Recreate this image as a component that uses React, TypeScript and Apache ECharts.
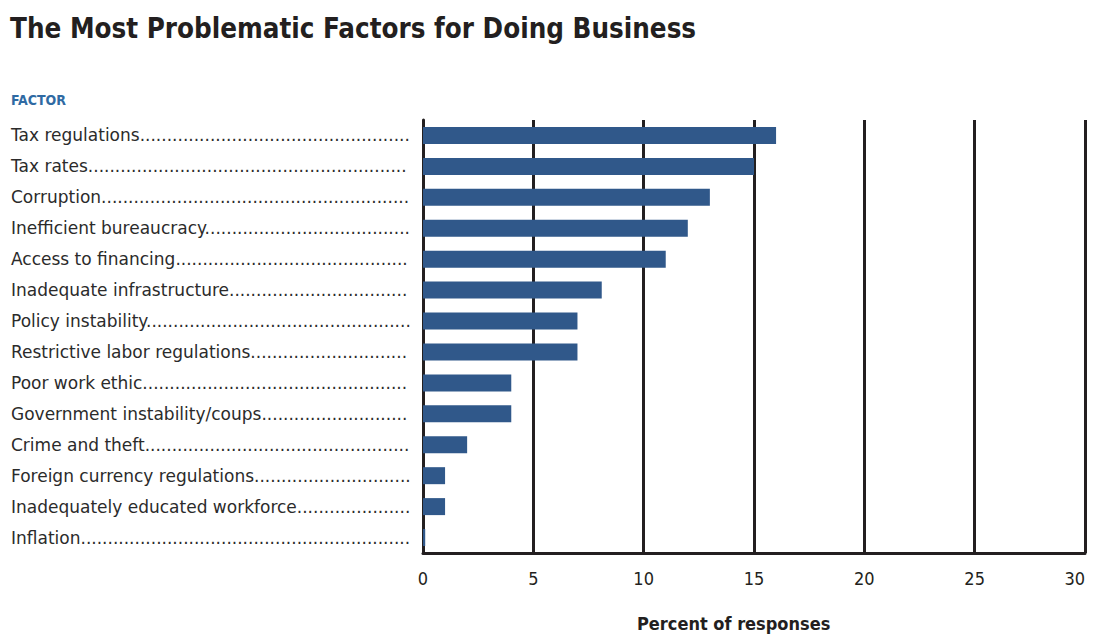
import React, { useEffect, useRef } from "react";
import * as echarts from "echarts";

const categories = [
  "Tax regulations",
  "Tax rates",
  "Corruption",
  "Inefficient bureaucracy",
  "Access to financing",
  "Inadequate infrastructure",
  "Policy instability",
  "Restrictive labor regulations",
  "Poor work ethic",
  "Government instability/coups",
  "Crime and theft",
  "Foreign currency regulations",
  "Inadequately educated workforce",
  "Inflation",
];
const values = [16, 15, 13, 12, 11, 8.1, 7, 7, 4, 4, 2, 1, 1, 0.1];
const xTicks = [0, 5, 10, 15, 20, 25, 30];

const COND = "'DejaVu Sans Condensed', sans-serif";
const WIDE = "'DejaVu Sans', 'Liberation Sans', sans-serif";

export default function App() {
  const ref = useRef<HTMLDivElement>(null);
  useEffect(() => {
    document.body.style.margin = "0";
    document.body.style.overflow = "hidden";
    if (!ref.current) return;
    const chart = echarts.init(ref.current, null, { renderer: "svg" });
    const dots = ".".repeat(200);
    chart.setOption({
      animation: false,
      backgroundColor: "#ffffff",
      title: [
        {
          text: "The Most Problematic Factors for Doing Business",
          left: 10,
          top: 14,
          padding: 0,
          textStyle: { fontFamily: COND, fontSize: 27.5, fontWeight: "bold", color: "#231f20" },
        },
        {
          text: "FACTOR",
          left: 11,
          top: 93,
          padding: 0,
          textStyle: { fontFamily: COND, fontSize: 14, fontWeight: "bold", color: "#2f6aa3" },
        },
      ],
      graphic: [
        {
          type: "text",
          left: 637,
          top: 614,
          style: {
            text: "Percent of responses",
            fontFamily: COND,
            fontSize: 18,
            fontWeight: "bold",
            fill: "#231f20",
          },
        },
      ],
      grid: { left: 423, right: 8, top: 120, bottom: 81, containLabel: false, outerBoundsMode: "none" },
      xAxis: {
        type: "value",
        min: 0,
        max: 30,
        interval: 5,
        axisLine: { show: true, lineStyle: { color: "#231f20", width: 3 } },
        axisTick: { show: false },
        axisLabel: {
          fontFamily: COND,
          fontSize: 18,
          color: "#231f20",
          margin: 16,
          alignMaxLabel: "right",
          formatter: (v: number) => (xTicks.includes(v) ? String(v) : ""),
        },
        splitLine: { show: true, lineStyle: { color: "#231f20", width: 3 } },
      },
      yAxis: {
        type: "category",
        data: categories,
        inverse: true,
        axisLine: { show: true, lineStyle: { color: "#231f20", width: 3 } },
        axisTick: { show: false },
        axisLabel: {
          fontFamily: WIDE,
          fontSize: 17,
          color: "#2b2b2b",
          align: "left",
          margin: 412,
          width: 402,
          overflow: "truncate",
          ellipsis: "",
          formatter: (v: string) => v + dots,
        },
      },
      series: [
        {
          type: "bar",
          data: values,
          barWidth: 17,
          itemStyle: { color: "#30588a" },
        },
      ],
    });
    return () => chart.dispose();
  }, []);
  return <div ref={ref} style={{ width: 1093, height: 634 }} />;
}
